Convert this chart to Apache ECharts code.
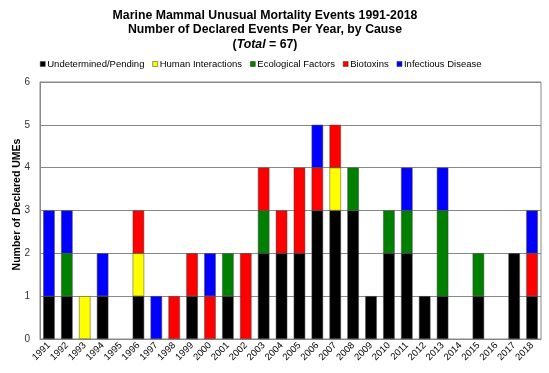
<!DOCTYPE html>
<html><head><meta charset="utf-8">
<script src="https://cdn.jsdelivr.net/npm/echarts@6/dist/echarts.min.js"></script>
<style>html,body{margin:0;padding:0;background:#fff}#c{width:549px;height:373px}</style>
</head><body><div id="c"></div>
<script>
const years = ['1991','1992','1993','1994','1995','1996','1997','1998','1999','2000','2001','2002','2003','2004','2005','2006','2007','2008','2009','2010','2011','2012','2013','2014','2015','2016','2017','2018'];
const undetermined = [1,1,0,1,0,1,0,0,1,0,1,0,2,2,2,3,3,3,1,2,2,1,1,0,1,0,2,1];
const human        = [0,0,1,0,0,1,0,0,0,0,0,0,0,0,0,0,1,0,0,0,0,0,0,0,0,0,0,0];
const ecological   = [0,1,0,0,0,0,0,0,0,0,1,0,1,0,0,0,0,1,0,1,1,0,2,0,1,0,0,0];
const biotoxins    = [0,0,0,0,0,1,0,1,1,1,0,2,1,1,2,1,1,0,0,0,0,0,0,0,0,0,0,1];
const infectious   = [2,1,0,1,0,0,1,0,0,1,0,0,0,0,0,1,0,0,0,0,1,0,1,0,0,0,0,1];
const seriesNames = ['Undetermined/Pending','Human Interactions','Ecological Factors','Biotoxins','Infectious Disease'];
const seriesData = [undetermined, human, ecological, biotoxins, infectious];
const colors = ['#000000','#FFFF00','#008000','#FF0000','#0000FF'];

const chart = echarts.init(document.getElementById('c'));
const tf = 'Liberation Sans, Arial, sans-serif';
chart.setOption({
  animation: false,
  backgroundColor: '#fff',
  textStyle: { fontFamily: tf },
  title: {
    left: 260, top: 3, textAlign: 'center',
    text: '{b|Marine Mammal Unusual Mortality Events 1991-2018}\n{b|Number of Declared Events Per Year, by Cause}\n{b|(}{bi|Total}{b| = 67)}',
    textStyle: {
      rich: {
        b: { fontSize: 12.3, fontWeight: 'bold', color: '#000', lineHeight: 14.5, fontFamily: tf },
        bi: { fontSize: 12.3, fontWeight: 'bold', fontStyle: 'italic', color: '#000', lineHeight: 14.5, fontFamily: tf }
      }
    }
  },
  legend: {
    top: 54, left: 35,
    icon: 'rect', itemWidth: 5, itemHeight: 5, itemGap: 8,
    textStyle: { fontSize: 9.5, color: '#000', padding: [0,0,0,-3] },
    data: seriesNames.map((n,i)=>({name:n, itemStyle:{borderColor:'#333', borderWidth:0.5}}))
  },
  grid: { left: 40, right: 8, top: 82, bottom: 34, containLabel: false, outerBoundsMode: 'none', show: true, borderColor: '#888', borderWidth: 1 },
  xAxis: {
    type: 'category', data: years,
    axisLine: { lineStyle: { color: '#888' } },
    axisTick: { show: false },
    axisLabel: { rotate: 45, fontSize: 9.5, color: '#000', margin: 5, interval: 0 }
  },
  yAxis: {
    type: 'value', min: 0, max: 6, interval: 1,
    name: 'Number of Declared UMEs', nameLocation: 'middle', nameGap: 17, nameMoveOverlap: false,
    nameTextStyle: { fontSize: 10.5, fontWeight: 'bold', color: '#000', padding: [0,0,0,12] },
    axisLine: { show: true, lineStyle: { color: '#888' } },
    axisTick: { show: false },
    axisLabel: { fontSize: 10, color: '#333', margin: 10 },
    splitLine: { lineStyle: { color: '#888', width: 1 } }
  },
  series: seriesData.map((d,i)=>({
    name: seriesNames[i], type: 'bar', stack: 'total',
    data: d.map(v => v === 0 ? '-' : v),
    barWidth: '64%',
    itemStyle: { color: colors[i], borderColor: '#444', borderWidth: 0.5 }
  }))
});
</script></body></html>
